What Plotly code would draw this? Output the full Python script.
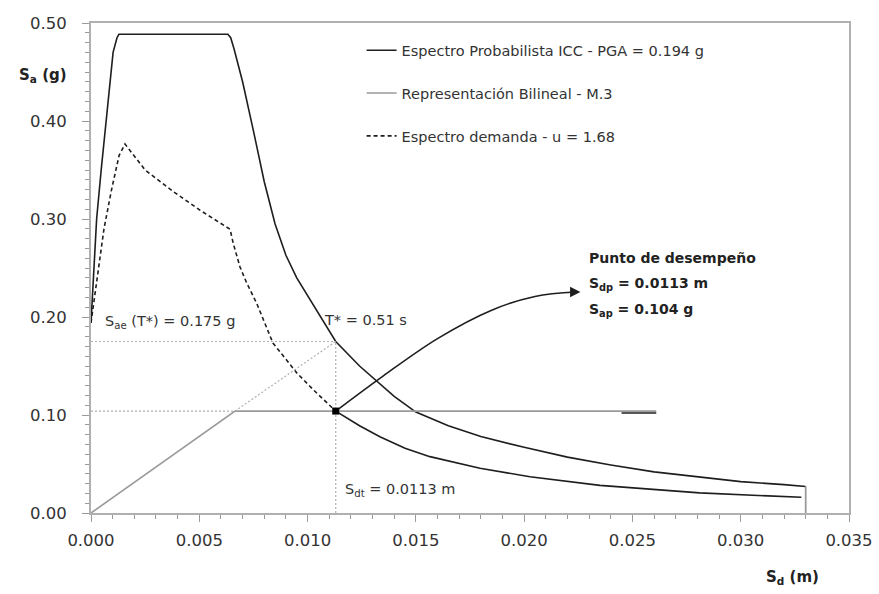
import plotly.graph_objects as go

# ---- data (Sd in m, Sa in g) ----
prob_sd = [0.0, 0.00012, 0.00026, 0.00047, 0.00069, 0.00087, 0.00102, 0.00120, 0.00129,
           0.00632, 0.00645, 0.0066, 0.0070, 0.0075, 0.0080, 0.0085, 0.0090, 0.0095,
           0.0100, 0.0106, 0.0113, 0.0124, 0.0132, 0.0140, 0.0150, 0.0165, 0.0180,
           0.0200, 0.0220, 0.0240, 0.0260, 0.0280, 0.0300, 0.0320, 0.0330]
prob_sa = [0.194, 0.25, 0.30, 0.35, 0.40, 0.44, 0.47, 0.485, 0.4885,
           0.4885, 0.485, 0.474, 0.440, 0.390, 0.338, 0.295, 0.263, 0.240,
           0.222, 0.199, 0.175, 0.150, 0.134, 0.119, 0.103, 0.089, 0.078,
           0.067, 0.057, 0.049, 0.042, 0.037, 0.032, 0.029, 0.027]

end_sd = [0.0330, 0.0330]
end_sa = [0.027, 0.0]

dem_sd = [0.0, 0.0003, 0.0006, 0.00095, 0.0013, 0.00157, 0.0025, 0.0038, 0.00503,
          0.00642, 0.00657, 0.00688, 0.00719, 0.00765, 0.0084, 0.0095, 0.0103, 0.0113]
dem_sa = [0.194, 0.24, 0.29, 0.33, 0.365, 0.3765, 0.350, 0.328, 0.309,
          0.2895, 0.275, 0.251, 0.2347, 0.214, 0.1735, 0.143, 0.125, 0.104]

dem2_sd = [0.0113, 0.0124, 0.01334, 0.0145, 0.01565, 0.01796, 0.02027, 0.0235, 0.0281, 0.0328]
dem2_sa = [0.104, 0.089, 0.0779, 0.066, 0.0575, 0.0456, 0.037, 0.0282, 0.0205, 0.016]

bil_sd = [0.0, 0.00665, 0.0261]
bil_sa = [0.0, 0.104, 0.104]

bil_end_sd = [0.0245, 0.0261]
bil_end_sa = [0.102, 0.102]

# reference (dotted) construction lines
ext_sd = [0.00665, 0.0113]
ext_sa = [0.104, 0.175]
h175_sd = [0.0, 0.0113]
h175_sa = [0.175, 0.175]
v113_sd = [0.0113, 0.0113]
v113_sa = [0.0, 0.175]
h104_sd = [0.0, 0.00665]
h104_sa = [0.104, 0.104]

perf_sd = [0.0113]
perf_sa = [0.104]

arrow_sd = [0.0113, 0.0135, 0.0160, 0.0185, 0.0205, 0.0224]
arrow_sa = [0.104, 0.140, 0.178, 0.207, 0.221, 0.2255]

x_ticks = [0.000, 0.005, 0.010, 0.015, 0.020, 0.025, 0.030, 0.035]
y_ticks = [0.00, 0.10, 0.20, 0.30, 0.40, 0.50]

FONT = "DejaVu Sans, Liberation Sans, Arial, sans-serif"
BLACK = "#1e1e1e"
GRAY = "#9a9a9a"
LGRAY = "#b0b0b0"
TXT = "#333333"

fig = go.Figure()

fig.add_trace(go.Scatter(x=prob_sd, y=prob_sa, mode="lines",
                         line=dict(color=BLACK, width=1.6),
                         name="Espectro Probabilista ICC - PGA = 0.194 g", legendgroup="a"))
fig.add_trace(go.Scatter(x=bil_sd, y=bil_sa, mode="lines",
                         line=dict(color=GRAY, width=1.6),
                         name="Representación Bilineal - M.3", legendgroup="b"))
fig.add_trace(go.Scatter(x=dem_sd, y=dem_sa, mode="lines",
                         line=dict(color=BLACK, width=1.6, dash="4px,3px"),
                         name="Espectro demanda - u = 1.68", legendgroup="c"))

fig.add_trace(go.Scatter(x=dem2_sd, y=dem2_sa, mode="lines",
                         line=dict(color=BLACK, width=1.6), showlegend=False, hoverinfo="skip"))
fig.add_trace(go.Scatter(x=end_sd, y=end_sa, mode="lines",
                         line=dict(color=GRAY, width=1.8), showlegend=False, hoverinfo="skip"))
fig.add_trace(go.Scatter(x=bil_end_sd, y=bil_end_sa, mode="lines",
                         line=dict(color=BLACK, width=1.6), showlegend=False, hoverinfo="skip"))

for xs, ys in [(ext_sd, ext_sa), (h175_sd, h175_sa), (v113_sd, v113_sa), (h104_sd, h104_sa)]:
    fig.add_trace(go.Scatter(x=xs, y=ys, mode="lines",
                             line=dict(color=LGRAY, width=1.2, dash="2px,2px"),
                             showlegend=False, hoverinfo="skip"))

fig.add_trace(go.Scatter(x=arrow_sd, y=arrow_sa, mode="lines",
                         line=dict(color=BLACK, width=1.6, shape="spline"),
                         showlegend=False, hoverinfo="skip"))
fig.add_trace(go.Scatter(x=perf_sd, y=perf_sa, mode="markers",
                         marker=dict(color="black", size=7, symbol="square"),
                         showlegend=False, hoverinfo="skip"))

annotations = [
    # arrow head
    dict(x=arrow_sd[-1] + 0.0002, y=arrow_sa[-1], ax=arrow_sd[-1] - 0.0003, ay=arrow_sa[-1],
         xref="x", yref="y", axref="x", ayref="y", showarrow=True,
         arrowhead=2, arrowsize=1.3, arrowwidth=1.6, arrowcolor=BLACK, text=""),
    dict(x=0.0229, y=(513 - 258) / 980, xref="x", yref="y", xanchor="left", yanchor="middle",
         text="<b>Punto de desempeño</b>", showarrow=False, font=dict(size=14, color="#222")),
    dict(x=0.0229, y=(513 - 284) / 980, xref="x", yref="y", xanchor="left", yanchor="middle",
         text="<b>S<sub>dp</sub> = 0.0113 m</b>", showarrow=False, font=dict(size=14, color="#222")),
    dict(x=0.0229, y=(513 - 310) / 980, xref="x", yref="y", xanchor="left", yanchor="middle",
         text="<b>S<sub>ap</sub> = 0.104 g</b>", showarrow=False, font=dict(size=14, color="#222")),
    dict(x=0.00055, y=(513 - 322) / 980, xref="x", yref="y", xanchor="left", yanchor="middle",
         text="S<sub>ae</sub> (T*) = 0.175 g", showarrow=False, font=dict(size=14.5, color=TXT)),
    dict(x=0.01065, y=(513 - 320) / 980, xref="x", yref="y", xanchor="left", yanchor="middle",
         text="T* = 0.51 s", showarrow=False, font=dict(size=14.5, color=TXT)),
    dict(x=0.01165, y=(513 - 490) / 980, xref="x", yref="y", xanchor="left", yanchor="middle",
         text="S<sub>dt</sub> = 0.0113 m", showarrow=False, font=dict(size=14.5, color=TXT)),
    # axis titles
    dict(x=0, y=(513 - 75) / 980, xref="paper", yref="y", xanchor="right", yanchor="middle",
         xshift=-22, text="<b>S<sub>a</sub> (g)</b>", showarrow=False, font=dict(size=15, color="#222")),
    dict(x=0.0324, y=0, xref="x", yref="paper", xanchor="center", yanchor="middle",
         yshift=-64, text="<b>S<sub>d</sub> (m)</b>", showarrow=False, font=dict(size=15, color="#222")),
]

fig.update_layout(
    width=879, height=594,
    margin=dict(l=91, r=30, t=23, b=81, autoexpand=False),
    paper_bgcolor="white", plot_bgcolor="white",
    font=dict(family=FONT, color=TXT, size=14),
    showlegend=True,
    legend=dict(x=0.357, y=0.977, xanchor="left", yanchor="top",
                bgcolor="rgba(0,0,0,0)", font=dict(size=14.5, color=TXT),
                tracegroupgap=21, itemwidth=30),
    annotations=annotations,
)

fig.update_xaxes(range=[0, 0.035], tickvals=x_ticks, tickformat=".3f",
                 showgrid=False, zeroline=False, automargin=False,
                 showline=True, linecolor=LGRAY, linewidth=2, mirror=True,
                 ticks="outside", ticklen=7, tickcolor=GRAY, tickwidth=1,
                 ticklabelstandoff=4,
                 minor=dict(dtick=0.001, ticks="outside", ticklen=4, tickcolor=GRAY),
                 tickfont=dict(size=16.5, color=TXT))
fig.update_yaxes(range=[0, 0.5], tickvals=y_ticks, tickformat=".2f",
                 showgrid=False, zeroline=False, automargin=False,
                 showline=True, linecolor=LGRAY, linewidth=2, mirror=True,
                 ticks="outside", ticklen=7, tickcolor=GRAY, tickwidth=1,
                 ticklabelstandoff=12,
                 minor=dict(dtick=0.01, ticks="outside", ticklen=4, tickcolor=GRAY),
                 tickfont=dict(size=16.5, color=TXT))

fig.write_html("out.html")
